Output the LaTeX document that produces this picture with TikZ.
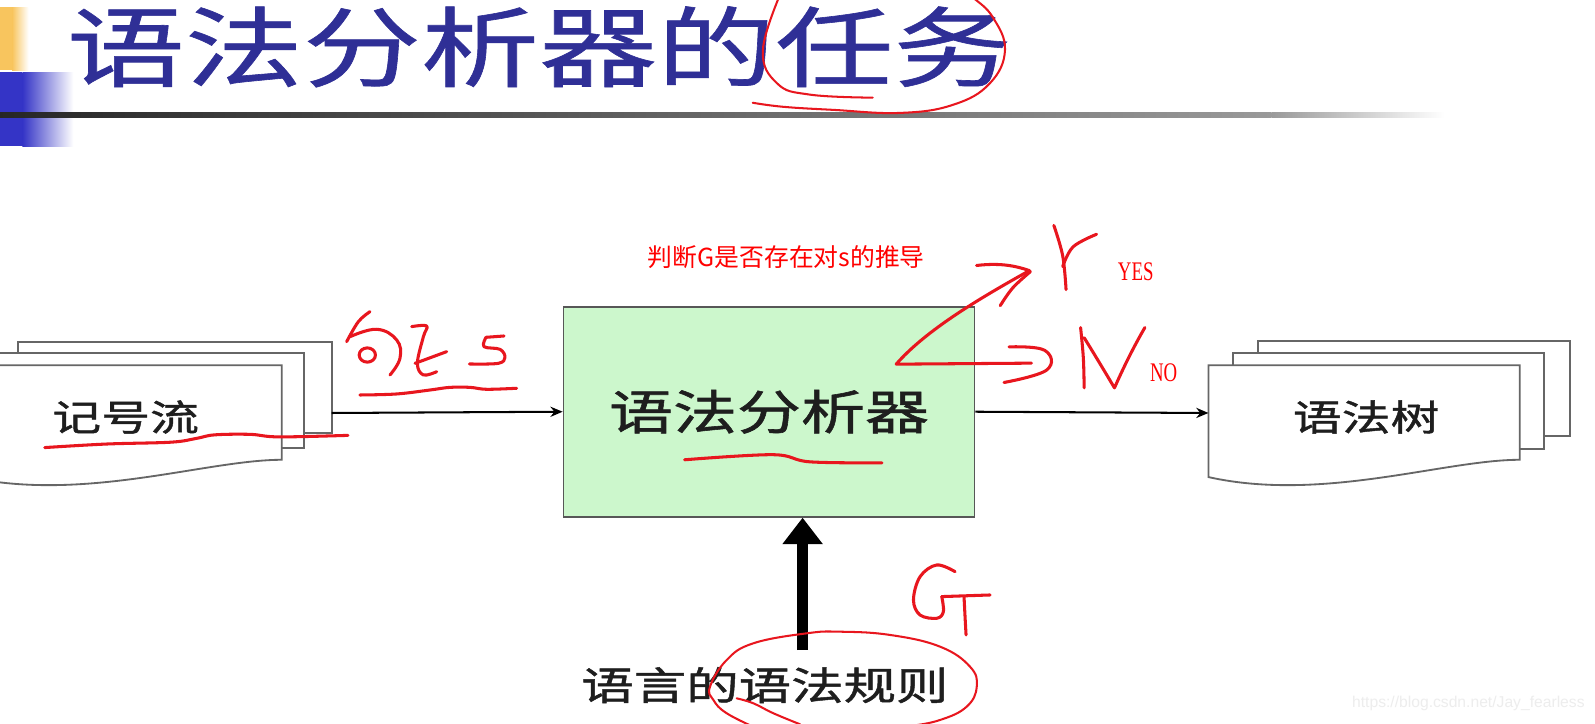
\documentclass[tikz,border=0pt]{standalone}
\usepackage{fontspec}
\setmainfont{Liberation Serif}
\newfontfamily\cjk{Noto Sans CJK SC}
\newfontfamily\cjkwide[FakeStretch=1.35, FakeBold=1.2]{Noto Sans CJK SC}
\newfontfamily\cjktitle[FakeStretch=1.35, FakeBold=0.7]{Noto Sans CJK SC}
\newfontfamily\wmfont{Liberation Sans}
\newfontfamily\narrowserif[FakeStretch=0.7]{Liberation Serif}
\usetikzlibrary{arrows.meta}
\definecolor{titleblue}{HTML}{2F2F96}
\definecolor{boxgreen}{HTML}{CCF7CC}
\definecolor{docgray}{HTML}{666666}
\definecolor{inkred}{HTML}{E8161E}
\definecolor{decoyellow}{HTML}{F8C55E}
\definecolor{decoblue}{HTML}{3434C6}
\definecolor{textdark}{HTML}{1E1E1E}
\begin{document}
\begin{tikzpicture}[x=0.5pt,y=-0.5pt,
  hand/.style={draw=inkred, line width=1.5pt, line cap=round, line join=round},
  thinhand/.style={draw=inkred, line width=1pt, line cap=round, line join=round},
  doc/.style={draw=docgray, line width=0.9pt, fill=white},
  doctext/.style={font=\cjkwide\fontsize{17.8pt}{19pt}\selectfont, text=textdark, inner sep=0pt},
  mainbox/.style={draw=docgray!85!black, line width=0.9pt, fill=boxgreen, minimum width=202pt, minimum height=103.25pt, inner sep=0pt, font=\cjkwide\fontsize{23.3pt}{25pt}\selectfont, text=textdark},
  conn/.style={draw=black, line width=1pt, -{Stealth[length=6pt,width=5pt]}},
  bigarrow/.style={draw=black, line width=5.5pt, -{Triangle[length=13pt,width=19pt]}},
  redtext/.style={text=red, inner sep=0pt}
]
\useasboundingbox (0,0) rectangle (1568,711);
\clip (0,0) rectangle (1568,711);
\fill[white] (0,0) rectangle (1568,711);

% slide decoration
\fill[decoyellow] (0,7) rectangle (12,69);
\shade[left color=decoyellow, right color=white] (12,7) rectangle (28,69);
\fill[decoblue] (0,71) rectangle (22,144);
\shade[left color=decoblue, right color=white] (22,71) rectangle (72,144);
\shade[left color=black!85, right color=black!40] (0,111) rectangle (1250,115.5);
\shade[left color=black!40, right color=white] (1250,111) rectangle (1420,115.5);

% title
\node[font=\cjktitle\fontsize{43pt}{45pt}\selectfont, text=titleblue, inner sep=0pt] (title) at (530,46) {语法分析器的任务};

% left document stack
\draw[doc] (18,336) rectangle (326,426);
\draw[doc] (-9,347.4) rectangle (299,440.8);
\draw[doc] (-31,359) -- (277,359) -- (277,452) .. controls (203,452) and (83,494) .. (-31,469) -- cycle;
\node[doctext] (tok) at (123.5,410) {记号流};
\coordinate (srcR) at (326,406);

% right document stack
\draw[doc] (1237,335) rectangle (1543,429);
\draw[doc] (1212,347) rectangle (1518,441);
\draw[doc] (1188,359) -- (1494,359) -- (1494,452) .. controls (1420,452) and (1300,494) .. (1188,469) -- cycle;
\node[doctext] (tree) at (1343,410) {语法树};
\coordinate (dstL) at (1188,406);

% main box
\node[mainbox] (box) at (756,404.75) {语法分析器};

\draw[conn] (srcR) -- (box.west);
\draw[conn] (box.east) -- (dstL);

% grammar rules
\node[font=\cjkwide\fontsize{19.1pt}{21pt}\selectfont, text=textdark, inner sep=0pt] (rules) at (752,673.5) {语言的语法规则};
\coordinate (gstart) at (789,639);
\draw[bigarrow] (gstart) -- (gstart |- box.south);

% typed red notes
\node[redtext, font=\cjk\fontsize{12.2pt}{13pt}\selectfont] (q) at (773,253) {判断G是否存在对s的推导};
\node[redtext, font=\narrowserif\fontsize{13.2pt}{14pt}\selectfont] (yes) at (1116.5,267) {YES};
\node[redtext, font=\narrowserif\fontsize{13.2pt}{14pt}\selectfont] (no) at (1144,366) {NO};

% watermark
\node[text=black!7, font=\wmfont\fontsize{7.7pt}{8pt}\selectfont, inner sep=0pt] (wm) at (1443.5,692) {https://blog.csdn.net/Jay\_fearless};

% ---- handwriting ----
% ellipse around title
\draw[thinhand] plot[smooth, tension=0.7] coordinates {(768,-8) (750,49) (764,82) (796,93) (858,96)};
\draw[thinhand] plot[smooth, tension=0.7] coordinates {(740,101) (770,105) (819,108) (885,111) (937,103) (973,82) (988,49) (976,17) (957,-2) (945,-10)};

% underline token stream
\draw[hand] plot[smooth, tension=0.6] coordinates {(44,440) (105,436.5) (168,434.7) (193,431) (211,427.5) (246,427) (274,429.5) (342,428)};

% sentence s
\draw[hand] plot[smooth, tension=0.6] coordinates {(363.7,306.4) (352.3,316.2) (340.8,335.9)};
\draw[hand] plot[smooth, tension=0.7] coordinates {(344.1,331) (370.3,323.7) (390,334.2) (393.2,352.2) (383.4,368.6)};
\draw[hand] (361.1,349) ellipse [x radius=8, y radius=7];
\draw[hand] plot[smooth, tension=0.6] coordinates {(404.7,321.1) (419.4,320.5) (416.2,331) (410.3,357.2) (416.2,368.6) (429.3,365.4)};
\draw[hand] (408,357.2) -- (439.1,345.7);
\draw[hand] plot[smooth, tension=0.6] coordinates {(495.5,330.3) (477.8,331.6)};
\draw[hand] plot[smooth, tension=0.6] coordinates {(477.8,331.6) (475.8,340.8) (491.5,343.4) (496.4,351.3) (489.9,357.2) (461.4,357.8)};
\draw[hand] plot[smooth, tension=0.6] coordinates {(353.9,388.3) (389.9,387.3) (422.7,383.4) (442.4,380.8) (462,380.8) (478.4,382.7) (507.9,381.7)};

% underline analyser
\draw[hand] plot[smooth, tension=0.6] coordinates {(673,452) (760,447) (796,454) (867,455)};

% Y / N arrows
\draw[hand] (960,261) .. controls (985,258) and (1000,262) .. (1012,266) .. controls (960,295) and (910,325) .. (881,358) -- (1014,357);
\draw[hand] plot[smooth, tension=0.6] coordinates {(1013,267) (995.6,283) (983.3,300.5)};
\draw[hand] plot[smooth, tension=0.7] coordinates {(992,341) (1027,344.4) (1029,363.7) (987,376)};
\draw[hand] plot[smooth, tension=0.6] coordinates {(1036,221.6) (1044.7,251.4) (1048,284.7)};
\draw[hand] plot[smooth, tension=0.6] coordinates {(1078,230.3) (1055,242.6) (1044.7,262)};
\draw[hand] plot[smooth, tension=0.6] coordinates {(1062.3,322) (1065,352) (1065.8,381.3)};
\draw[hand] (1065.8,332) .. controls (1080,355) and (1090,372) .. (1095.6,381.3) .. controls (1105,360) and (1115,340) .. (1125.5,322);

% G
\draw[hand] plot[smooth, tension=0.6] coordinates {(938.9,562) (920.9,555.4) (904.5,566.9) (898,589.8) (904.5,604.6) (920.9,607.8) (927.4,601.3) (925.8,586.5)};
\draw[hand] (925.8,586.5) -- (973.3,584.9);
\draw[hand] plot[smooth, tension=0.6] coordinates {(947.7,586.5) (948.7,606.2) (949.7,624.2)};

% ellipse around grammar rules
\draw[thinhand] plot[smooth, tension=0.7] coordinates {(743.9,716) (714.4,701.2) (701.3,688.1) (698,675) (714.4,648.8) (740.6,632.4) (793,622.6) (825.8,621) (875,624.2) (924.1,635.7) (953.6,655.4) (960.2,675) (950.3,694.7) (924.1,707.8) (891.4,714.3) (860,718)};
\draw[thinhand] plot[smooth, tension=0.7] coordinates {(724.2,686.5) (740.6,691.4) (760.3,701.2) (786.5,712)};
\end{tikzpicture}
\end{document}
